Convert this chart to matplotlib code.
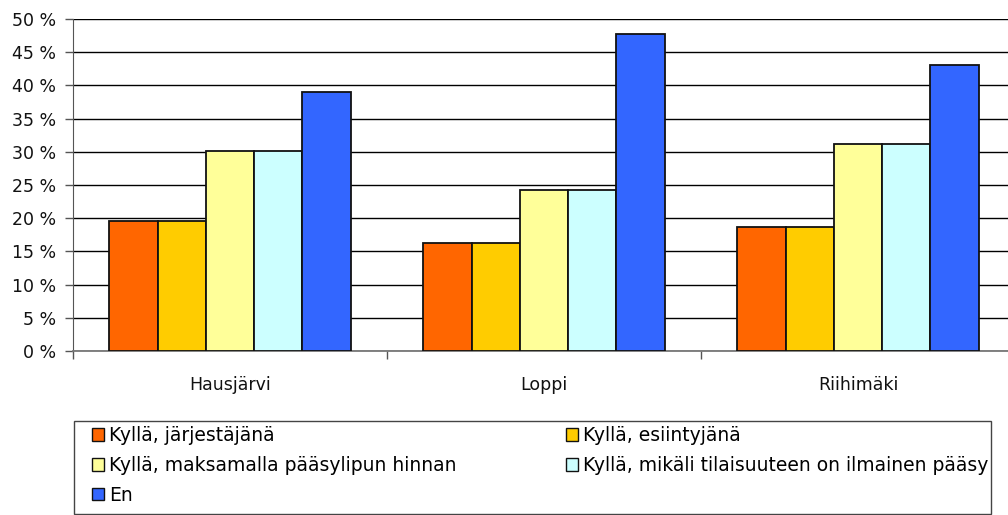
import matplotlib
matplotlib.use("Agg")
import matplotlib.pyplot as plt
import numpy as np
from matplotlib.patches import Patch, Rectangle

plt.rcParams['font.family'] = ['DejaVu Sans']

categories = ["Hausjärvi", "Loppi", "Riihimäki"]
series_names = [
    "Kyllä, järjestäjänä",
    "Kyllä, esiintyjänä",
    "Kyllä, maksamalla pääsylipun hinnan",
    "Kyllä, mikäli tilaisuuteen on ilmainen pääsy",
    "En",
]
jarjestajana = [19.6, 16.3, 18.6]
esiintyjana = [19.6, 16.3, 18.6]
maksamalla = [30.1, 24.2, 31.2]
ilmainen = [30.1, 24.2, 31.2]
en = [39.0, 47.7, 43.1]
series_values = [jarjestajana, esiintyjana, maksamalla, ilmainen, en]
colors = ["#FF6600", "#FFCC00", "#FFFF99", "#CCFFFF", "#3366FF"]
yticks = [0, 5, 10, 15, 20, 25, 30, 35, 40, 45, 50]

W, H = 1008, 515
fig = plt.figure(figsize=(W / 100, H / 100), dpi=100)
ax = fig.add_axes([73 / W, (H - 351) / H, 942 / W, 332 / H])

n = len(series_values)
bw = 1.0 / (n + 1.5)
x = np.arange(len(categories))
for i, (vals, c) in enumerate(zip(series_values, colors)):
    offs = (i - (n - 1) / 2) * bw
    ax.bar(x + offs, vals, width=bw, color=c, edgecolor="#111111",
           linewidth=1.3, zorder=3, label=series_names[i])

ax.set_xlim(-0.5, len(categories) - 0.5)
ax.set_ylim(0, 50)
ax.set_yticks(yticks)
ax.set_yticklabels([f"{v} %" for v in yticks], fontsize=12.5, color="#111111")
ax.yaxis.grid(True, color="black", linewidth=1.0, zorder=0)
ax.set_axisbelow(True)

ax.set_xticks(np.arange(len(categories) + 1) - 0.5)
ax.set_xticklabels([])
ax.set_xticks(x, minor=True)
ax.set_xticklabels(categories, minor=True, fontsize=12.5, color="#111111")
ax.tick_params(axis="x", which="minor", length=0, pad=18)
ax.tick_params(axis="x", which="major", length=6, color="#555555", width=1)
ax.tick_params(axis="y", length=6, color="#555555", width=1, pad=6)

for s in ["top", "right"]:
    ax.spines[s].set_visible(False)
ax.spines["left"].set_color("#555555")
ax.spines["bottom"].set_color("#777777")
ax.spines["bottom"].set_linewidth(1.3)

# legend frame
fig.add_artist(Rectangle((74 / W, 1 - 514 / H), (991 - 74) / W, (514 - 421) / H,
                         transform=fig.transFigure, facecolor="white",
                         edgecolor="#444444", linewidth=1.0, zorder=1))
order = [0, 2, 4, 1, 3]
handles = [Patch(facecolor=colors[i], edgecolor="#111111", linewidth=1.0) for i in order]
labels = [series_names[i] for i in order]
leg = fig.legend(handles, labels, loc="upper left",
                 bbox_to_anchor=(92 / W, 1 - 512 / H, (988 - 92) / W, (512 - 426) / H),
                 mode="expand", ncol=2, fontsize=13.5, frameon=False,
                 borderpad=0.0, handlelength=0.65, handleheight=0.65,
                 handletextpad=0.25, labelspacing=0.58, columnspacing=1.0,
                 borderaxespad=0)
leg.set_zorder(2)

fig.savefig("out.png", dpi=100)
